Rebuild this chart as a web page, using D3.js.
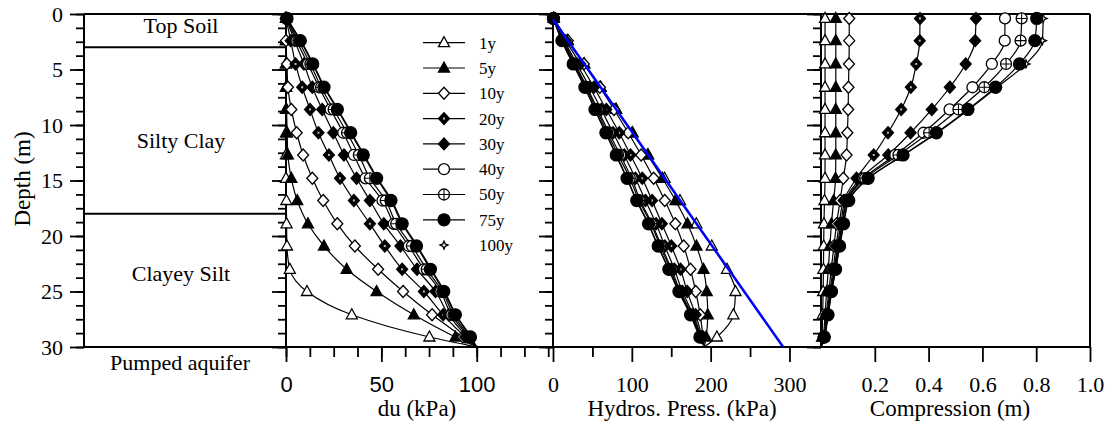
<!DOCTYPE html>
<html>
<head>
<meta charset="utf-8">
<script src="https://cdn.jsdelivr.net/npm/d3@7"></script>
<style>
  body { margin: 0; background: #fff; }
</style>
</head>
<body>
<div id="chart"></div>
<script>
// depth of the computation nodes (m); last one is the aquifer top
var depths = [0.4, 2.4, 4.5, 6.6, 8.6, 10.7, 12.7, 14.8, 16.8, 18.9, 20.9, 23.0, 25.0, 27.1, 29.1, 30];
var years = ["1y", "5y", "10y", "20y", "30y", "40y", "50y", "75y", "100y"];

// drawdown du (kPa)
var du = [
  [0, 0, 0, 0, 0, 0, 0, 0, 0.2, 0.3, 0.5, 2, 11, 34.5, 75.2, 100],
  [0, 0, 0, 0, 0.3, 0.6, 1, 2.8, 5.9, 11.5, 19.9, 31.8, 47.5, 67, 88.8, 100],
  [0, 0, 0.5, 1, 2.8, 5.6, 9, 13.8, 19.5, 26.9, 36.1, 48.3, 61.4, 76.6, 92.7, 100],
  [0, 2.5, 5, 8.5, 12.6, 17, 22.5, 28.3, 35.6, 44, 51.8, 60.9, 72.3, 82.4, 94, 100],
  [0, 4.5, 9.4, 13.8, 19, 24.8, 30.4, 37, 44, 51.3, 60, 68.7, 78.4, 85.3, 95, 100],
  [0.3, 5.5, 11.5, 17.3, 23.4, 30, 35.6, 41.7, 50.6, 56.5, 64.4, 72.3, 81, 86.7, 95.8, 100],
  [0.4, 6.5, 12.8, 18.4, 25, 32, 38.2, 44, 52.3, 57.8, 66, 73.8, 82, 87.8, 96.2, 100],
  [0.5, 7.5, 14, 19.9, 26.9, 33.9, 40.5, 47.5, 55, 60.9, 68.4, 75.7, 82.7, 88.8, 96.7, 100],
  [0.5, 7.8, 14.3, 20.3, 27.3, 34.3, 41, 48, 55.5, 61.4, 68.9, 76.2, 83.2, 89.2, 97, 100]
];

// hydrostatic pressure after pumping (kPa)
var hydros = [
  [1, 18.8, 39.6, 60.4, 80.2, 101, 120.8, 141.5, 161.1, 181.8, 201.4, 220.7, 231.5, 228.8, 207.9, 192],
  [1, 18.8, 39.6, 60.4, 79.9, 100.4, 119.8, 138.7, 155.4, 170.6, 182, 190.9, 195, 196.3, 194.3, 192],
  [1, 18.8, 39.1, 59.4, 77.4, 95.4, 111.8, 127.7, 141.8, 155.2, 165.8, 174.4, 181.1, 186.7, 190.4, 192],
  [1, 16.3, 34.6, 51.9, 67.6, 84, 98.3, 113.2, 125.7, 138.1, 150.1, 161.8, 170.2, 180.9, 189.1, 192],
  [1, 14.3, 30.2, 46.6, 61.2, 76.2, 90.4, 104.5, 117.3, 130.8, 141.9, 154, 164.1, 178, 188.1, 192],
  [0.7, 13.3, 28.1, 43.1, 56.8, 71, 85.2, 99.8, 110.7, 125.6, 137.5, 150.4, 161.5, 176.6, 187.3, 192],
  [0.6, 12.3, 26.8, 42, 55.2, 69, 82.6, 97.5, 109, 124.3, 135.9, 148.9, 160.5, 175.5, 186.9, 192],
  [0.5, 11.3, 25.6, 40.5, 53.3, 67.1, 80.3, 94, 106.3, 121.2, 133.5, 147, 159.8, 174.5, 186.4, 192],
  [0.5, 11, 25.3, 40.1, 52.9, 66.7, 79.8, 93.5, 105.8, 120.7, 133, 146.5, 159.3, 174.1, 186.1, 192]
];

// initial hydrostatic line
var hydroLineDepth = [0.5, 30];
var hydroLinePress = [0, 292];

// compression (m)
var comp = [
  [0.015, 0.015, 0.015, 0.015, 0.015, 0.015, 0.015, 0.015, 0.013, 0.011, 0.010, 0.009, 0.008, 0.006, 0.004, 0],
  [0.055, 0.055, 0.055, 0.055, 0.055, 0.055, 0.055, 0.054, 0.047, 0.039, 0.033, 0.027, 0.021, 0.015, 0.008, 0],
  [0.105, 0.105, 0.104, 0.102, 0.101, 0.098, 0.095, 0.083, 0.071, 0.058, 0.048, 0.038, 0.029, 0.020, 0.010, 0],
  [0.368, 0.367, 0.354, 0.334, 0.298, 0.249, 0.196, 0.132, 0.084, 0.068, 0.056, 0.045, 0.033, 0.022, 0.011, 0],
  [0.576, 0.573, 0.538, 0.479, 0.412, 0.333, 0.250, 0.148, 0.090, 0.074, 0.061, 0.049, 0.036, 0.024, 0.012, 0],
  [0.684, 0.683, 0.635, 0.563, 0.478, 0.381, 0.276, 0.158, 0.095, 0.078, 0.064, 0.051, 0.037, 0.025, 0.012, 0],
  [0.746, 0.742, 0.688, 0.607, 0.511, 0.402, 0.288, 0.164, 0.098, 0.080, 0.066, 0.052, 0.038, 0.025, 0.012, 0],
  [0.802, 0.795, 0.738, 0.649, 0.546, 0.429, 0.305, 0.175, 0.103, 0.084, 0.069, 0.054, 0.039, 0.026, 0.012, 0],
  [0.826, 0.823, 0.762, 0.655, 0.550, 0.432, 0.308, 0.177, 0.104, 0.085, 0.070, 0.055, 0.040, 0.027, 0.013, 0]
];

var layerNames = ["Top Soil", "Silty Clay", "Clayey Silt"];
var layerBounds = [3, 18];
var layerLabelDepth = [1.0, 11.4, 23.4];

var depthTicks = [0, 5, 10, 15, 20, 25, 30];
var duTicks = [0, 50, 100];
var hyTicks = [0, 100, 200, 300];
var coTicks = [0.2, 0.4, 0.6, 0.8, 1.0];

var W = 1113, H = 429;
var yTop = 14, yBot = 347;
var xLeft = 84, xDu0 = 286, xHy0 = 553, xCo0 = 821, xEnd = 1090;
var serif = "'Liberation Serif', 'Times New Roman', serif";
var sans = "'Liberation Sans', Arial, sans-serif";

var svg = d3.select("#chart").append("svg")
  .attr("width", W).attr("height", H)
  .style("background", "#fff")
  .style("font-family", serif);

var y = d3.scaleLinear().domain([0, 30]).range([yTop, yBot]);
var xDu = d3.scaleLinear().domain([0, 140]).range([xDu0, xHy0]);
var xHy = d3.scaleLinear().domain([0, 340]).range([xHy0, xCo0]);
var xCo = d3.scaleLinear().domain([0, 1]).range([xCo0, xEnd]);

var minorDepth = d3.range(0, 30.01, 1.25);

// ---- y axes (ticks point left) ----
[xLeft, xDu0, xHy0, xCo0].forEach(function(x0, i) {
  var gMin = svg.append("g").attr("transform", "translate(" + x0 + ",0)")
    .call(d3.axisLeft(y).tickValues(minorDepth).tickSize(8).tickFormat(""));
  var gMaj = svg.append("g").attr("transform", "translate(" + x0 + ",0)")
    .call(d3.axisLeft(y).tickValues(depthTicks).tickSize(14).tickPadding(7)
      .tickFormat(i == 0 ? d3.format("d") : ""));
  [gMin, gMaj].forEach(function(g) {
    g.select(".domain").remove();
    g.selectAll("line").attr("stroke", "#000").attr("stroke-width", 1.8);
    g.selectAll("text").attr("fill", "#000")
      .style("font-family", serif).style("font-size", "22px");
  });
});

// ---- x axes ----
function bottomAxis(scale, minor, major, fmt, font) {
  if (minor) {
    var g1 = svg.append("g").attr("transform", "translate(0," + yBot + ")")
      .call(d3.axisBottom(scale).tickValues(minor).tickSize(10).tickFormat(""));
    g1.select(".domain").remove();
    g1.selectAll("line").attr("stroke", "#000").attr("stroke-width", 1.8);
  }
  var g2 = svg.append("g").attr("transform", "translate(0," + yBot + ")")
    .call(d3.axisBottom(scale).tickValues(major).tickSize(15).tickPadding(14).tickFormat(fmt));
  g2.select(".domain").remove();
  g2.selectAll("line").attr("stroke", "#000").attr("stroke-width", 1.8);
  g2.selectAll("text").attr("fill", "#000")
    .style("font-family", font).style("font-size", "22px");
}
bottomAxis(xDu, d3.range(0, 140, 12.5), duTicks, d3.format("d"), sans);
bottomAxis(xHy, [50, 150, 250], hyTicks, d3.format("d"), serif);
bottomAxis(xCo, null, coTicks, d3.format(".1f"), serif);

// ---- frame ----
var frame = svg.append("g").attr("stroke", "#000").attr("stroke-width", 2);
frame.append("line").attr("x1", xLeft).attr("x2", xEnd).attr("y1", yTop).attr("y2", yTop);
frame.append("line").attr("x1", xLeft).attr("x2", xEnd).attr("y1", yBot).attr("y2", yBot);
[xLeft, xDu0, xHy0, xCo0, xEnd].forEach(function(x0) {
  frame.append("line").attr("x1", x0).attr("x2", x0).attr("y1", yTop).attr("y2", yBot);
});

function label(x, yy, txt, size) {
  return svg.append("text").attr("x", x).attr("y", yy)
    .attr("text-anchor", "middle")
    .style("font-family", serif).style("font-size", size + "px")
    .text(txt);
}

// ---- soil column ----
layerBounds.forEach(function(d) {
  svg.append("line").attr("x1", xLeft).attr("x2", xDu0)
    .attr("y1", y(d)).attr("y2", y(d))
    .attr("stroke", "#000").attr("stroke-width", 2);
});
layerNames.forEach(function(n, i) {
  label(181, y(layerLabelDepth[i]), n, 22).attr("dy", "0.35em");
});
label(180, 370, "Pumped aquifer", 22);

// ---- titles ----
label(0, 0, "Depth (m)", 23).attr("transform", "translate(30,179) rotate(-90)");
label(417, 416, "du (kPa)", 23);
label(682, 416, "Hydros. Press. (kPa)", 23);
label(950, 416, "Compression (m)", 23);

// ---- markers ----
var styles = [
  { shape: "tri", fill: "#fff" },
  { shape: "tri", fill: "#000" },
  { shape: "dia", fill: "#fff" },
  { shape: "dia", fill: "#000", dot: true },
  { shape: "dia", fill: "#000" },
  { shape: "circ", fill: "#fff" },
  { shape: "circ", fill: "#fff", cross: true },
  { shape: "circ", fill: "#000", r: 6 },
  { shape: "star", fill: "#fff" }
];
var paths = {
  tri: "M0,-6L5.5,4L-5.5,4Z",
  dia: "M0,-6L5.5,0L0,6L-5.5,0Z",
  star: "M0,-4L1.2,-1.2L4,0L1.2,1.2L0,4L-1.2,1.2L-4,0L-1.2,-1.2Z"
};

function marker(g, s, x, yy) {
  var m = g.append("g").attr("transform", "translate(" + x + "," + yy + ")");
  if (s.shape == "circ") {
    m.append("circle").attr("r", s.r || 5.5).attr("fill", s.fill)
      .attr("stroke", "#000").attr("stroke-width", 1.3);
    if (s.cross) {
      m.append("path").attr("d", "M-5.5,0H5.5M0,-5.5V5.5").attr("stroke", "#000").attr("stroke-width", 1.1);
    }
  } else {
    m.append("path").attr("d", paths[s.shape]).attr("fill", s.fill)
      .attr("stroke", "#000").attr("stroke-width", 1.3);
    if (s.dot) {
      m.append("rect").attr("x", -1).attr("y", -1).attr("width", 2).attr("height", 2).attr("fill", "#bbb");
    }
  }
}

// 100y is drawn before 75y so the filled circles stay on top
var drawOrder = [0, 1, 2, 3, 4, 5, 6, 8, 7];

function drawPanel(xs, values) {
  var g = svg.append("g");
  drawOrder.forEach(function(i) {
    var pts = values[i].map(function(v, j) { return [xs(v), y(depths[j])]; });
    g.append("path")
      .attr("d", d3.line().curve(d3.curveMonotoneY)(pts))
      .attr("fill", "none").attr("stroke", "#000").attr("stroke-width", 1.2);
    pts.slice(0, pts.length - 1).forEach(function(p) {
      marker(g, styles[i], p[0], p[1]);
    });
  });
}

drawPanel(xDu, du);
drawPanel(xHy, hydros);
drawPanel(xCo, comp);

// initial hydrostatic line
svg.append("path")
  .attr("d", d3.line()(hydroLineDepth.map(function(d, i) { return [xHy(hydroLinePress[i]), y(d)]; })))
  .attr("stroke", "#0000ff").attr("stroke-width", 2.5).attr("fill", "none");

// ---- legend ----
var leg = svg.append("g");
years.forEach(function(n, i) {
  var ly = 42.7 + i * 25.3;
  if (i < years.length - 1) {
    leg.append("line").attr("x1", 423).attr("x2", 465).attr("y1", ly).attr("y2", ly)
      .attr("stroke", "#000").attr("stroke-width", 1.2);
  }
  marker(leg, styles[i], 444, ly);
  leg.append("text").attr("x", 479).attr("y", ly).attr("dy", "0.35em")
    .style("font-family", serif).style("font-size", "17px").text(n);
});
</script>
</body>
</html>
